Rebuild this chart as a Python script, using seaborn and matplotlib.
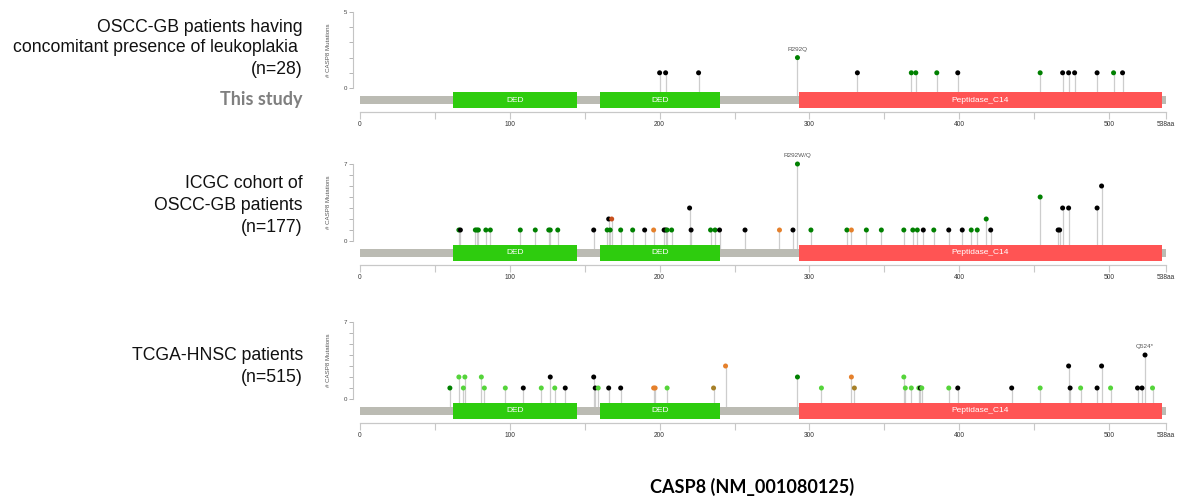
import matplotlib
matplotlib.use("Agg")
import matplotlib.pyplot as plt
import seaborn as sns
from matplotlib.patches import Rectangle

sns.set_style("white")
plt.rcParams['font.family'] = ['Liberation Sans', 'DejaVu Sans']

# ---------------------------------------------------------------------------
# Data
# ---------------------------------------------------------------------------
PROTEIN_LEN = 538
DOMAIN_NAMES = ['DED', 'DED', 'Peptidase_C14']
DOMAIN_START = [62, 160, 293]
DOMAIN_END = [145, 240, 535]
DOMAIN_COLORS = ['#2ecc0e', '#2ecc0e', '#ff5454']

# mutation classes: M missense, m missense (VUS), T truncating, S splice,
# I inframe, X mixed
TYPE_COLORS = {'M': '#008000', 'm': '#55d43a', 'T': '#000000',
               'S': '#e5802b', 'I': '#a68028', 'X': '#c8501e'}

# OSCC-GB with leukoplakia (n=28)
p1_pos = [200, 204, 226, 292, 332, 368, 371, 385, 399, 454, 469, 473, 477, 492, 503, 509]
p1_cnt = [1, 1, 1, 2, 1, 1, 1, 1, 1, 1, 1, 1, 1, 1, 1, 1]
p1_type = ['T', 'T', 'T', 'M', 'T', 'M', 'M', 'M', 'T', 'M', 'T', 'T', 'T', 'T', 'M', 'T']

# ICGC OSCC-GB (n=177)
p2_pos = [66, 67, 77, 78, 79, 84, 87, 107, 117, 126, 127, 132, 156, 165, 166, 167, 168,
          174, 182, 190, 196, 203, 204, 205, 208, 220, 221, 234, 237, 240, 257, 280, 289,
          292, 301, 325, 328, 338, 348, 363, 369, 372, 376, 383, 393, 402, 408, 412, 418,
          421, 454, 466, 467, 469, 473, 492, 495]
p2_cnt = [1, 1, 1, 1, 1, 1, 1, 1, 1, 1, 1, 1, 1, 1, 2, 1, 2,
          1, 1, 1, 1, 1, 1, 1, 1, 3, 1, 1, 1, 1, 1, 1, 1,
          7, 1, 1, 1, 1, 1, 1, 1, 1, 1, 1, 1, 1, 1, 1, 2,
          1, 4, 1, 1, 3, 3, 3, 5]
p2_type = ['M', 'T', 'M', 'M', 'M', 'M', 'M', 'M', 'M', 'M', 'M', 'M', 'T', 'M', 'T', 'M', 'X',
           'M', 'M', 'T', 'S', 'T', 'T', 'M', 'M', 'T', 'T', 'M', 'M', 'T', 'T', 'S', 'T',
           'M', 'M', 'M', 'S', 'M', 'M', 'M', 'M', 'M', 'T', 'M', 'T', 'T', 'M', 'M', 'M',
           'T', 'M', 'T', 'T', 'T', 'T', 'T', 'T']

# TCGA-HNSC (n=515)
p3_pos = [60, 66, 69, 70, 81, 83, 97, 109, 121, 127, 130, 137, 156, 157, 159, 166, 174,
          196, 197, 205, 236, 244, 292, 308, 328, 330, 363, 364, 368, 373, 374, 375,
          393, 399, 435, 454, 473, 474, 481, 492, 495, 501, 519, 522, 524, 529]
p3_cnt = [1, 2, 1, 2, 2, 1, 1, 1, 1, 2, 1, 1, 2, 1, 1, 1, 1,
          1, 1, 1, 1, 3, 2, 1, 2, 1, 2, 1, 1, 1, 1, 1,
          1, 1, 1, 1, 3, 1, 1, 1, 3, 1, 1, 1, 4, 1]
p3_type = ['M', 'm', 'm', 'm', 'm', 'm', 'm', 'T', 'm', 'T', 'm', 'T', 'T', 'T', 'm', 'T', 'T',
           'S', 'S', 'm', 'I', 'S', 'M', 'm', 'S', 'I', 'm', 'm', 'm', 'm', 'T', 'm',
           'm', 'T', 'T', 'm', 'T', 'T', 'm', 'T', 'T', 'm', 'T', 'T', 'T', 'm']

LABEL_TEXT = ['R292Q', 'R292W/Q', 'Q524*']
LABEL_POS = [292, 292, 524]
Y_MAX = [5, 7, 7]

GROUP_LINES = [
    ['OSCC-GB patients having', 'concomitant presence of leukoplakia ', '(n=28)'],
    ['ICGC cohort of', 'OSCC-GB patients', '(n=177)'],
    ['TCGA-HNSC patients', '(n=515)'],
]

# ---------------------------------------------------------------------------
# Layout (pixels)
# ---------------------------------------------------------------------------
W, H = 1180, 499
X0 = 360                      # pixel of residue 0
SCALE = 806 / PROTEIN_LEN     # px per residue
AX_LEFT, AX_RIGHT = 353, 1172
PANEL_TOP = [12, 164, 322]
PANEL_ZERO = [88, 241, 399]
TEXT_Y = [[27, 48, 70], [183, 205, 227], [355, 377]]

fig = plt.figure(figsize=(W / 100, H / 100), dpi=100)


def px_axes(left, top, right, bottom):
    return fig.add_axes([left / W, 1 - bottom / H, (right - left) / W, (bottom - top) / H])


xlim = ((AX_LEFT - X0) / SCALE, (AX_RIGHT - X0) / SCALE)
panels = [(p1_pos, p1_cnt, p1_type), (p2_pos, p2_cnt, p2_type), (p3_pos, p3_cnt, p3_type)]

for i, (pos, cnt, typ) in enumerate(panels):
    top, zero, ymax = PANEL_TOP[i], PANEL_ZERO[i], Y_MAX[i]
    u = ymax / (zero - top)

    # lollipops
    ax = px_axes(AX_LEFT, top, AX_RIGHT, zero + 8)
    ax.set_xlim(xlim)
    ax.set_ylim(-8 * u, ymax)
    ax.vlines(pos, -8 * u, cnt, color='#cdcdcd', lw=0.9, zorder=1)
    sns.scatterplot(x=pos, y=cnt, hue=typ, palette=TYPE_COLORS, ax=ax, s=13,
                    linewidth=0, legend=False, zorder=3, clip_on=False)
    top_cnt = max(c for p, c in zip(pos, cnt) if p == LABEL_POS[i])
    ax.annotate(LABEL_TEXT[i], xy=(LABEL_POS[i], top_cnt), xytext=(0, 6),
                textcoords='offset pixels', ha='center', va='bottom',
                fontsize=4.6, color='#555555')

    for s in ['top', 'right', 'bottom']:
        ax.spines[s].set_visible(False)
    ax.spines['left'].set_bounds(0, ymax)
    ax.spines['left'].set_color('#c4c4c4')
    ax.spines['left'].set_linewidth(0.8)
    ax.set_xticks([])
    ax.set_yticks(range(ymax + 1))
    ax.set_yticklabels(['0'] + [''] * (ymax - 1) + [str(ymax)])
    ax.tick_params(axis='y', left=True, length=3, width=0.6, color='#aaaaaa',
                   labelsize=4.4, labelcolor='#444444', pad=1.5)
    ax.annotate('# CASP8 Mutations', xy=(0, ymax / 2), xycoords=ax.get_yaxis_transform(),
                xytext=(-25, 0), textcoords='offset pixels', rotation=90,
                ha='center', va='center', fontsize=4.4, color='#555555')

    # protein track
    dax = px_axes(AX_LEFT, zero + 4, AX_RIGHT, zero + 24)
    dax.set_facecolor('none')
    dax.set_xlim(xlim)
    dax.set_ylim(0, 20)
    dax.add_patch(Rectangle((0, 8), PROTEIN_LEN, 8, color='#bbbbb3', lw=0))
    for name, s, e, c in zip(DOMAIN_NAMES, DOMAIN_START, DOMAIN_END, DOMAIN_COLORS):
        dax.add_patch(Rectangle((s, 4), e - s, 16, color=c, lw=0))
        dax.text((s + e) / 2, 12, name, ha='center', va='center', color='white', fontsize=6)
    for s in ['top', 'right', 'left']:
        dax.spines[s].set_visible(False)
    dax.spines['bottom'].set_bounds(0, PROTEIN_LEN)
    dax.spines['bottom'].set_color('#c8c8c8')
    dax.spines['bottom'].set_linewidth(0.9)
    xt = list(range(0, 501, 50)) + [PROTEIN_LEN]
    dax.set_xticks(xt)
    dax.set_xticklabels([str(t) if t % 100 == 0 else '' for t in xt[:-1]] + [f'{PROTEIN_LEN}aa'])
    dax.set_yticks([])
    dax.tick_params(axis='x', bottom=True, length=5, width=0.8, color='#c8c8c8',
                    labelsize=4.8, labelcolor='#333333', pad=1.5)

    # group labels
    for line, y in zip(GROUP_LINES[i], TEXT_Y[i]):
        fig.text(303 / W, 1 - y / H, line, ha='right', va='center', fontsize=12.7, color='#111111')

fig.text(303 / W, 1 - 100 / H, 'This study', ha='right', va='center', fontsize=13,
         fontweight='bold', color='#7f7f7f', family=['Lato', 'DejaVu Sans'])
fig.text(752 / W, 1 - 487 / H, 'CASP8 (NM_001080125)', ha='center', va='center',
         fontsize=13, fontweight='bold', color='#000000', family=['Lato', 'DejaVu Sans'])

fig.savefig('out.png', dpi=100, facecolor='white')
